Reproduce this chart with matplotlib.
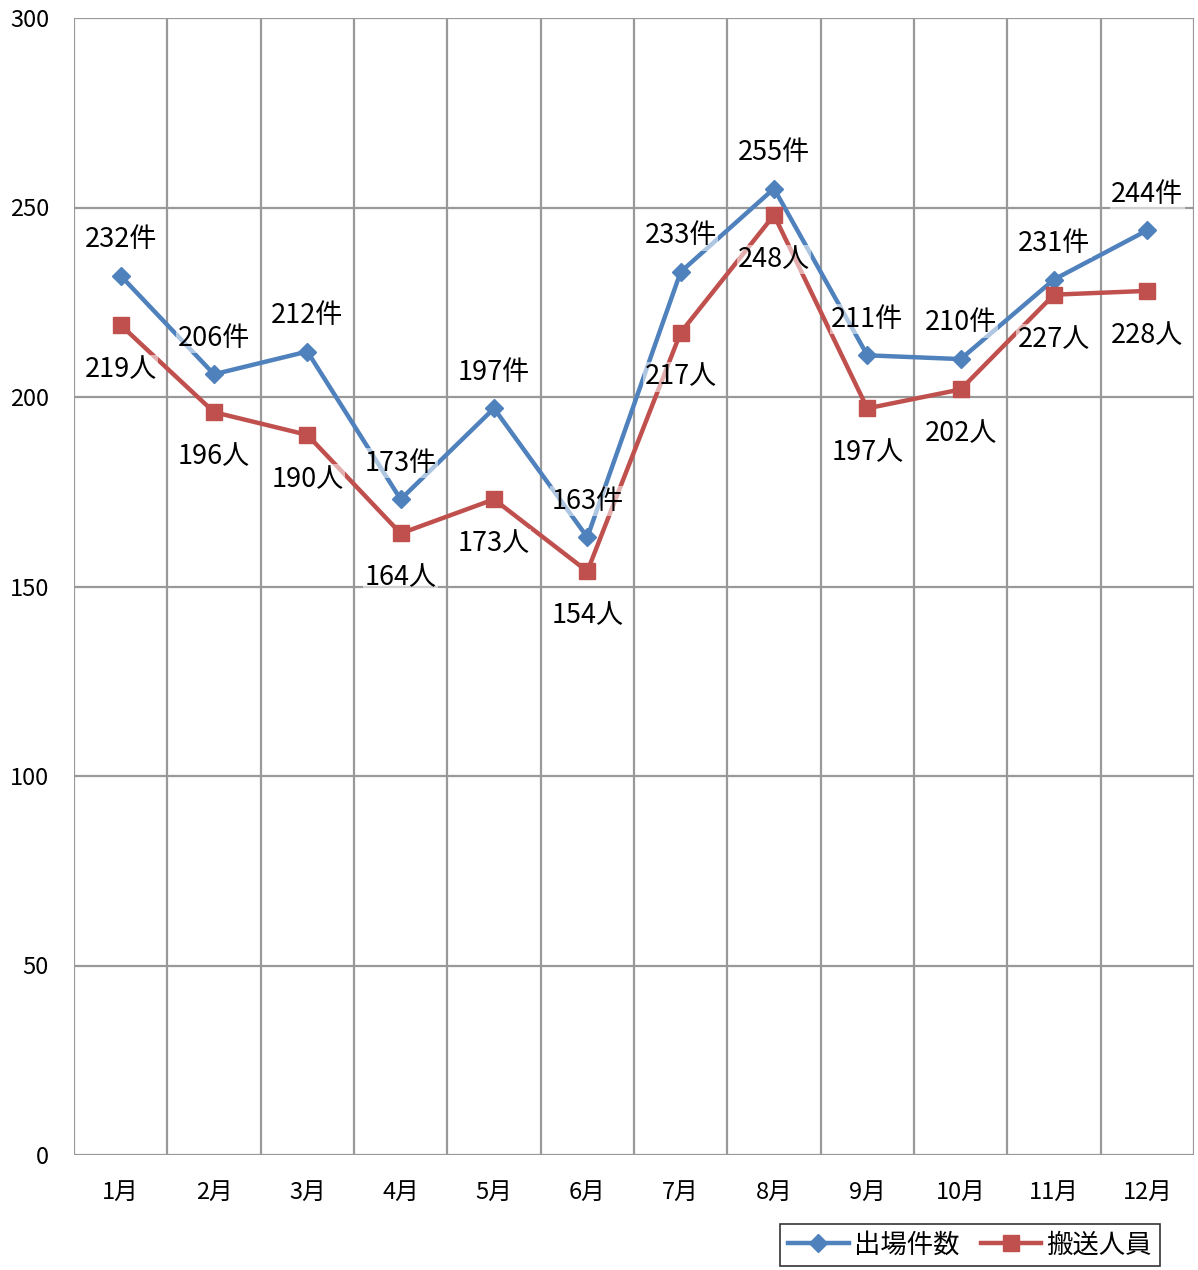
import matplotlib
matplotlib.use("Agg")
import matplotlib.pyplot as plt
import numpy as np

plt.rcParams['font.family'] = ['Noto Sans CJK JP', 'DejaVu Sans']

months = ["1月", "2月", "3月", "4月", "5月", "6月", "7月", "8月", "9月", "10月", "11月", "12月"]
dispatches = [232, 206, 212, 173, 197, 163, 233, 255, 211, 210, 231, 244]
transported = [219, 196, 190, 164, 173, 154, 217, 248, 197, 202, 227, 228]
yticks = [0, 50, 100, 150, 200, 250, 300]

blue = "#4F81BD"
red = "#C0504D"
grid_c = "#999999"

fig = plt.figure(figsize=(11.98, 12.70), dpi=100)
ax = fig.add_axes([74 / 1198, 1 - 1155 / 1270, (1194 - 74) / 1198, (1155 - 18) / 1270])

x = np.arange(len(months))
ax.plot(x, dispatches, color=blue, lw=3.2, marker="D", ms=9, zorder=3, label="出場件数")
ax.plot(x, transported, color=red, lw=3.2, marker="s", ms=11, zorder=3, label="搬送人員")

ax.set_xlim(-0.5, len(months) - 0.5)
ax.set_ylim(0, 300)
ax.set_yticks(yticks)
ax.set_yticklabels([str(v) for v in yticks], fontsize=17)
ax.tick_params(axis="y", length=0, pad=18)
ax.set_xticks(x)
ax.set_xticklabels(months, fontsize=17)
ax.tick_params(axis="x", length=0, pad=19)

for b in np.arange(-0.5, len(months), 1.0):
    ax.axvline(b, color=grid_c, lw=1.6, zorder=1)
for v in yticks:
    ax.axhline(v, color=grid_c, lw=1.6, zorder=1)
for s in ax.spines.values():
    s.set_visible(False)

box = dict(facecolor="white", alpha=0.55, edgecolor="none", pad=1)
for i, v in enumerate(dispatches):
    ax.annotate(f"{v}件", (i, v), xytext=(0, 26), textcoords="offset points",
                ha="center", va="center", fontsize=19.5, bbox=box, zorder=4)
for i, v in enumerate(transported):
    ax.annotate(f"{v}人", (i, v), xytext=(0, -32), textcoords="offset points",
                ha="center", va="center", fontsize=19.5, bbox=box, zorder=4)

leg = fig.legend(loc="center", bbox_to_anchor=(970 / 1198, 1 - 1245 / 1270), ncol=2,
                 fontsize=19, frameon=True, fancybox=False, edgecolor="black",
                 handlelength=2.3, columnspacing=0.8, handletextpad=0.2,
                 borderpad=0.3)
leg.get_frame().set_linewidth(1.2)

fig.savefig("out.png", dpi=100)
